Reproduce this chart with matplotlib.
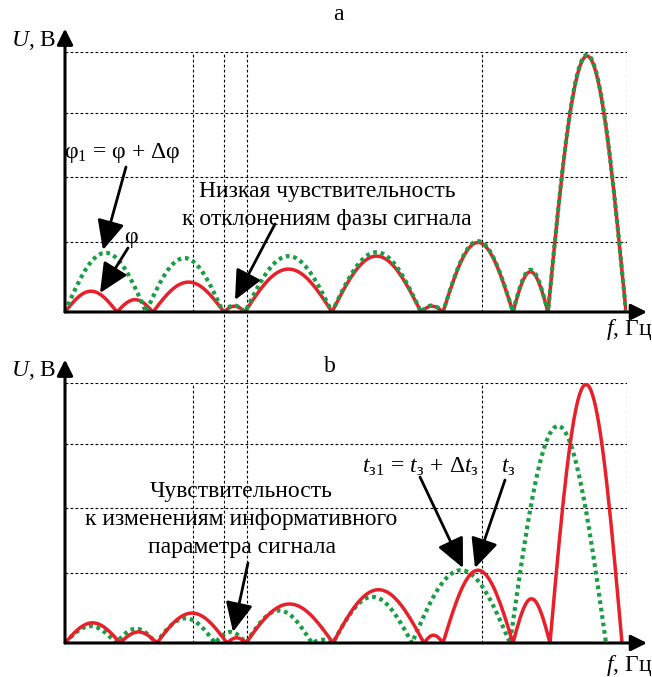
import numpy as np
import matplotlib
matplotlib.use("Agg")
from matplotlib import pyplot as plt

plt.rcParams['font.family'] = ['Liberation Serif', 'DejaVu Serif']
plt.rcParams['mathtext.fontset'] = 'custom'
plt.rcParams['mathtext.rm'] = 'Liberation Serif'
plt.rcParams['mathtext.it'] = 'Liberation Serif:italic'

# spectra as lobes: zero crossings (f) and lobe peaks (U)
red_a_zeros = [0, 5.2, 8.8, 15.9, 18.0, 26.7, 35.6, 37.8, 44.8, 48.3, 56.1]
red_a_peaks = [0.32, 0.19, 0.46, 0.09, 0.66, 0.86, 0.09, 1.07, 0.62, 3.94]
green_a_zeros = [0, 8.1, 15.8, 18.0, 26.7, 35.6, 37.8, 44.8, 48.3, 56.1]
green_a_peaks = [0.91, 0.83, 0.10, 0.86, 0.92, 0.10, 1.09, 0.65, 3.96]

red_b_zeros = [0, 5.5, 9.2, 16.2, 18.1, 26.8, 35.9, 37.8, 44.8, 48.5, 55.7]
red_b_peaks = [0.31, 0.17, 0.46, 0.08, 0.60, 0.82, 0.12, 1.12, 0.68, 3.98]
green_b_zeros = [0, 5.1, 9.1, 15.0, 18.1, 24.7, 26.8, 34.7, 44.5, 54.1]
green_b_peaks = [0.26, 0.22, 0.38, 0.17, 0.50, 0.05, 0.71, 1.12, 3.34]

grid_u = [1.08, 2.08, 3.06, 4.0]
grid_f = [12.8, 41.7, 56.2]
long_f = [15.9, 18.2]   # lines that run through both panels

W, H = 652, 677
fig = plt.figure(figsize=(W / 100, H / 100), dpi=100)


def fp(x, y):
    # pixel (from top-left) -> figure fraction
    return (x / W, 1 - y / H)


def lobes(zeros, peaks):
    fs, us = [], []
    for z0, z1, p in zip(zeros[:-1], zeros[1:], peaks):
        t = np.linspace(0, 1, 40)
        fs.extend(z0 + (z1 - z0) * t)
        us.extend(p * np.sin(np.pi * t))
    return np.array(fs), np.array(us)


RED = '#e8202a'
GREEN = '#1a9e45'


def panel(base_px, rz, rp, gz, gp, green_top, extend_down):
    ax = fig.add_axes([65 / W, 1 - base_px / H, 562 / W, 260 / H])
    ax.set_xlim(0, 56.2)
    ax.set_ylim(0, 4.0)
    ax.axis('off')
    gk = dict(color='k', lw=0.8, ls=(0, (2.5, 2)), zorder=1)
    for u in grid_u:
        ax.plot([0, 56.2], [u, u], **gk)
    for f in grid_f:
        ax.plot([f, f], [0, 4.0], **gk)
    for f in long_f:
        ax.plot([f, f], [-1.077 if extend_down else 0, 4.0], clip_on=False, **gk)
    fr, ur = lobes(rz, rp)
    fg, ug = lobes(gz, gp)
    ax.plot(fr, ur, color=RED, lw=2.5, zorder=3 if green_top else 4,
            solid_capstyle='round')
    ax.plot(fg, ug, color=GREEN, lw=3.0, ls=(0, (0.9, 0.9)),
            dash_capstyle='butt', zorder=4 if green_top else 3)
    arr = dict(arrowstyle='-|>,head_length=0.6,head_width=0.3', lw=2.2,
               color='k', mutation_scale=16, shrinkA=0, shrinkB=0)
    ax.annotate('', xy=(0, 4.36), xytext=(0, 0), arrowprops=arr,
                annotation_clip=False, zorder=5)
    ax.annotate('', xy=(58.2, 0), xytext=(0, 0), arrowprops=arr,
                annotation_clip=False, zorder=5)
    return ax


ax_a = panel(312, red_a_zeros, red_a_peaks, green_a_zeros, green_a_peaks, True, True)
ax_b = panel(643, red_b_zeros, red_b_peaks, green_b_zeros, green_b_peaks, False, False)

fs = 17
txt = dict(fontsize=fs, color='k')

fig.text(*fp(56, 40), r'$\mathit{U}$, В', ha='right', va='center', **txt)
fig.text(*fp(56, 370), r'$\mathit{U}$, В', ha='right', va='center', **txt)
fig.text(*fp(338, 15), 'a', ha='center', va='center', **txt)
fig.text(*fp(330, 367), 'b', ha='center', va='center', **txt)
fig.text(*fp(652, 330), r'$\mathit{f}$, Гц', ha='right', va='center', **txt)
fig.text(*fp(652, 665), r'$\mathit{f}$, Гц', ha='right', va='center', **txt)

fig.text(*fp(64, 153), r'φ$_1$ = φ + Δφ', ha='left', va='center', **txt)
fig.text(*fp(131, 237), 'φ', ha='center', va='center', **txt)
fig.text(*fp(327, 191), 'Низкая чувствительность', ha='center', va='center', **txt)
fig.text(*fp(327, 219), 'к отклонениям фазы сигнала', ha='center', va='center', **txt)

fig.text(*fp(241, 491), 'Чувствительность', ha='center', va='center', **txt)
fig.text(*fp(241, 519), 'к изменениям информативного', ha='center', va='center', **txt)
fig.text(*fp(242, 548), 'параметра сигнала', ha='center', va='center', **txt)
fig.text(*fp(362, 467),
         r'$\mathit{t}_{\mathrm{з1}}\,=\,\mathit{t}_{\mathrm{з}}\,+\,\Delta\mathit{t}_{\mathrm{з}}$',
         ha='left', va='center', **txt)
fig.text(*fp(508, 467), r'$\mathit{t}_{\mathrm{з}}$', ha='center', va='center', **txt)

big = dict(arrowstyle='-|>,head_length=0.9,head_width=0.42', lw=2.0,
           color='k', mutation_scale=20, shrinkA=0, shrinkB=0)
for (x0, y0), (x1, y1) in [((126, 167), (103, 250)), ((128, 248), (100, 293)),
                           ((275, 224), (235, 300)), ((248, 563), (233, 632)),
                           ((420, 477), (463, 568)), ((505, 480), (475, 568))]:
    fig.add_artist(matplotlib.patches.FancyArrowPatch(
        fp(x0, y0), fp(x1, y1), transform=fig.transFigure, **big))

fig.savefig('out.png', dpi=100)
